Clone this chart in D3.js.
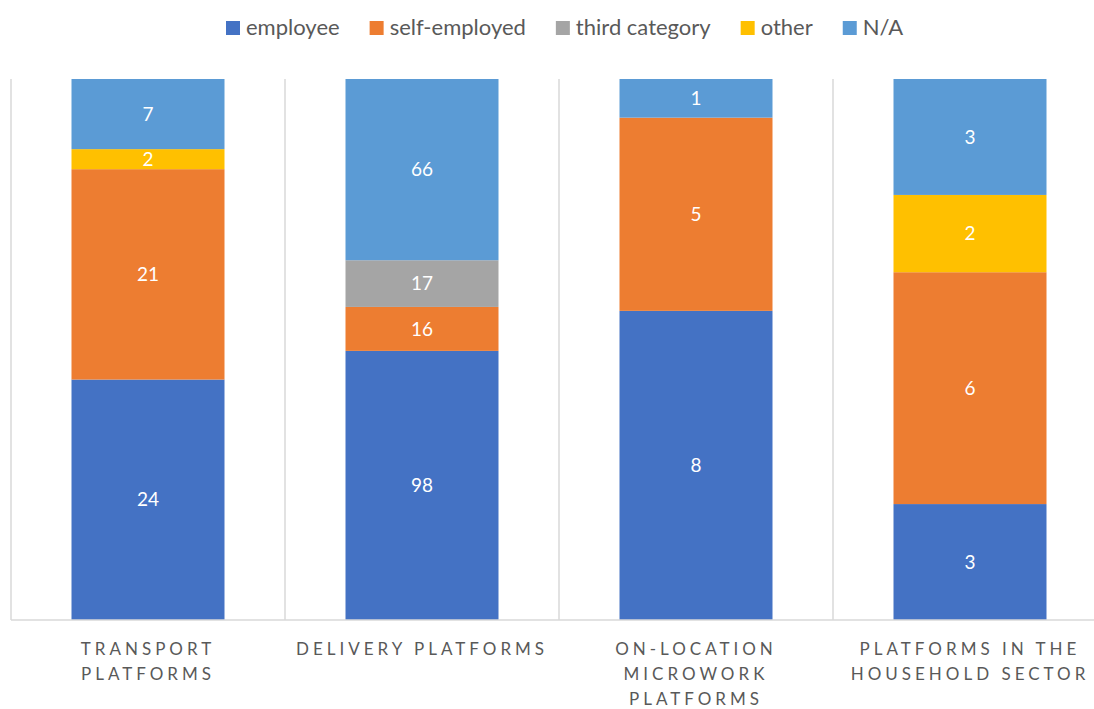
<!DOCTYPE html>
<html>
<head>
<meta charset="utf-8">
<script src="https://cdn.jsdelivr.net/npm/d3@7"></script>
<style>
  body { margin: 0; background: #fff; }
  svg { display: block; font-family: Lato, "Open Sans", sans-serif; }
</style>
</head>
<body>
<svg id="chart" width="1094" height="709"></svg>
<script>
const categories = [
    "TRANSPORT\nPLATFORMS",
    "DELIVERY PLATFORMS",
    "ON-LOCATION\nMICROWORK\nPLATFORMS",
    "PLATFORMS IN THE\nHOUSEHOLD SECTOR"
];
const seriesNames = ["employee", "self-employed", "third category", "other", "N/A"];
const seriesColors = ["#4472C4", "#ED7D31", "#A5A5A5", "#FFC000", "#5B9BD5"];

const employee     = [24, 98, 8, 3];
const selfEmployed = [21, 16, 5, 6];
const thirdCat     = [0, 17, 0, 0];
const other        = [2, 0, 0, 2];
const na           = [7, 66, 1, 3];

const rows = categories.map((c, i) => ({
    cat: c,
    "employee": employee[i],
    "self-employed": selfEmployed[i],
    "third category": thirdCat[i],
    "other": other[i],
    "N/A": na[i]
}));

const svg = d3.select("#chart");
const margin = {left: 11, top: 79, bottom: 620};
const bandW = 274;

const x = d3.scaleBand()
    .domain(categories)
    .range([margin.left, margin.left + bandW * categories.length])
    .paddingInner(0)
    .paddingOuter(0);

const y = d3.scaleLinear().domain([0, 1]).range([margin.bottom, margin.top]);
const color = d3.scaleOrdinal(seriesNames, seriesColors);

const stacked = d3.stack()
    .keys(seriesNames)
    .offset(d3.stackOffsetExpand)(rows);

// category separators
svg.append("g")
    .selectAll("line")
    .data(d3.range(categories.length + 1))
    .join("line")
    .attr("x1", i => margin.left + i * bandW)
    .attr("x2", i => margin.left + i * bandW)
    .attr("y1", margin.top)
    .attr("y2", margin.bottom)
    .attr("stroke", "#D9D9D9")
    .attr("stroke-width", 1.5);

const barW = 153;
const layers = svg.append("g")
    .selectAll("g")
    .data(stacked)
    .join("g")
    .attr("fill", d => color(d.key));

layers.selectAll("rect")
    .data(d => d.map(p => ({p, key: d.key})))
    .join("rect")
    .attr("x", d => x(d.p.data.cat) + (bandW - barW) / 2)
    .attr("width", barW)
    .attr("y", d => y(d.p[1]))
    .attr("height", d => y(d.p[0]) - y(d.p[1]));

// value labels
svg.append("g")
    .selectAll("g")
    .data(stacked)
    .join("g")
    .selectAll("text")
    .data(d => d.map(p => ({p, key: d.key})).filter(d => d.p.data[d.key] > 0))
    .join("text")
    .attr("x", d => x(d.p.data.cat) + bandW / 2)
    .attr("y", d => (y(d.p[0]) + y(d.p[1])) / 2)
    .attr("dy", "0.35em")
    .attr("text-anchor", "middle")
    .attr("fill", "#fff")
    .attr("font-size", 19)
    .text(d => d.p.data[d.key]);

// bottom axis line
svg.append("line")
    .attr("x1", margin.left)
    .attr("x2", 1094)
    .attr("y1", margin.bottom)
    .attr("y2", margin.bottom)
    .attr("stroke", "#D9D9D9")
    .attr("stroke-width", 1.5);

// category labels
const catLabels = svg.append("g")
    .selectAll("text")
    .data(categories)
    .join("text")
    .attr("x", d => x(d) + bandW / 2)
    .attr("y", 655)
    .attr("text-anchor", "middle")
    .attr("fill", "#595959")
    .attr("font-size", 17)
    .attr("letter-spacing", "4px");

catLabels.selectAll("tspan")
    .data(d => d.split("\n"))
    .join("tspan")
    .attr("x", function() { return d3.select(this.parentNode).attr("x"); })
    .attr("dy", (d, i) => i === 0 ? 0 : 25)
    .text(d => d);

// legend, laid out left to right from measured text widths
const legend = svg.append("g");
let lx = 226;
seriesNames.forEach(name => {
    legend.append("rect")
        .attr("x", lx)
        .attr("y", 21)
        .attr("width", 14)
        .attr("height", 14)
        .attr("fill", color(name));
    const t = legend.append("text")
        .attr("x", lx + 20)
        .attr("y", 35)
        .attr("fill", "#595959")
        .attr("font-size", 22)
        .text(name);
    lx += 20 + t.node().getComputedTextLength() + 30;
});
</script>
</body>
</html>
